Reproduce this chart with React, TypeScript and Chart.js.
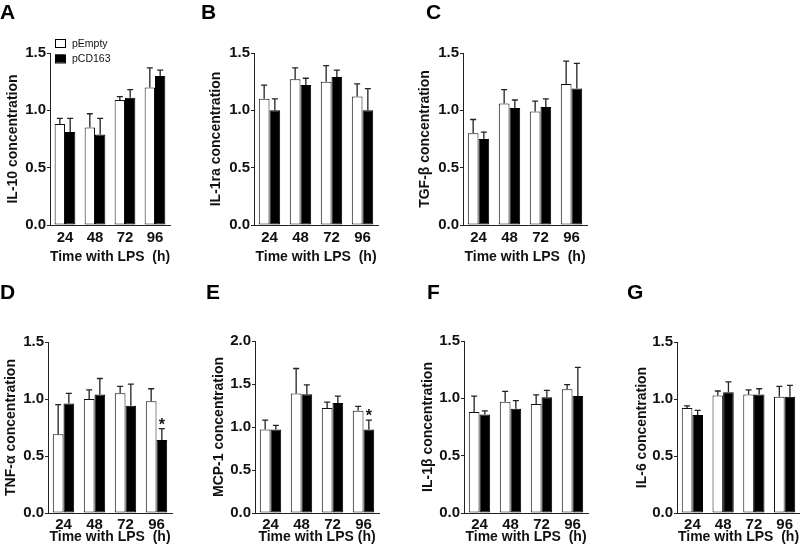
import React, { useEffect, useRef } from 'react';
import { Chart, registerables } from 'chart.js';

Chart.register(...registerables);

// ---------------- data ----------------
const hours = ['24', '48', '72', '96'];
const seriesNames = ['pEmpty', 'pCD163'];

const il10Empty = [0.88, 0.85, 1.09, 1.2];
const il10EmptyErr = [0.05, 0.12, 0.03, 0.17];
const il10CD163 = [0.81, 0.79, 1.11, 1.3];
const il10CD163Err = [0.12, 0.14, 0.07, 0.05];

const il1raEmpty = [1.1, 1.27, 1.25, 1.12];
const il1raEmptyErr = [0.12, 0.1, 0.14, 0.11];
const il1raCD163 = [1.0, 1.22, 1.29, 1.0];
const il1raCD163Err = [0.1, 0.06, 0.06, 0.19];

const tgfEmpty = [0.8, 1.06, 0.99, 1.23];
const tgfEmptyErr = [0.12, 0.12, 0.09, 0.2];
const tgfCD163 = [0.75, 1.02, 1.03, 1.19];
const tgfCD163Err = [0.06, 0.07, 0.07, 0.22];

const tnfEmpty = [0.69, 1.0, 1.05, 0.98];
const tnfEmptyErr = [0.26, 0.08, 0.06, 0.11];
const tnfCD163 = [0.96, 1.04, 0.94, 0.64];
const tnfCD163Err = [0.09, 0.14, 0.19, 0.1];
const tnfSig = ['', '', '', '*'];

const mcpEmpty = [0.97, 1.39, 1.22, 1.19];
const mcpEmptyErr = [0.11, 0.29, 0.07, 0.05];
const mcpCD163 = [0.97, 1.38, 1.28, 0.97];
const mcpCD163Err = [0.05, 0.11, 0.08, 0.11];
const mcpSig = ['', '', '', '*'];

const il1bEmpty = [0.88, 0.97, 0.95, 1.08];
const il1bEmptyErr = [0.14, 0.09, 0.08, 0.04];
const il1bCD163 = [0.86, 0.91, 1.01, 1.02];
const il1bCD163Err = [0.03, 0.07, 0.06, 0.25];

const il6Empty = [0.92, 1.03, 1.04, 1.02];
const il6EmptyErr = [0.02, 0.04, 0.04, 0.09];
const il6CD163 = [0.86, 1.06, 1.04, 1.02];
const il6CD163Err = [0.04, 0.09, 0.05, 0.1];

const noSig = ['', '', '', ''];
const ticks15 = [0, 0.5, 1.0, 1.5];
const ticks20 = [0, 0.5, 1.0, 1.5, 2.0];

// ---------------- layout / style ----------------
const FONT = '"Liberation Sans", Arial, Helvetica, sans-serif';
const INK = '#111';
const AXIS = '#222';

const panels = [
  { letter: 'A', lx: 0, ly: 1, yTitle: 'IL-10 concentration', xTitle: 'Time with LPS  (h)', empty: il10Empty, emptyErr: il10EmptyErr, cd: il10CD163, cdErr: il10CD163Err, sig: noSig, yTicks: ticks15, left: 5, top: 0, w: 169, h: 266, axisX: 50, chartTop: 53, chartBottom: 225, chartRight: 170, tickPad: 5, legend: true },
  { letter: 'B', lx: 201, ly: 1, yTitle: 'IL-1ra concentration', xTitle: 'Time with LPS  (h)', empty: il1raEmpty, emptyErr: il1raEmptyErr, cd: il1raCD163, cdErr: il1raCD163Err, sig: noSig, yTicks: ticks15, left: 208, top: 0, w: 174, h: 266, axisX: 254, chartTop: 53, chartBottom: 225, chartRight: 378, tickPad: 5, legend: false },
  { letter: 'C', lx: 426, ly: 1, yTitle: 'TGF-β concentration', xTitle: 'Time with LPS  (h)', empty: tgfEmpty, emptyErr: tgfEmptyErr, cd: tgfCD163, cdErr: tgfCD163Err, sig: noSig, yTicks: ticks15, left: 417, top: 0, w: 174, h: 266, axisX: 463, chartTop: 53, chartBottom: 225, chartRight: 587, tickPad: 5, legend: false },
  { letter: 'D', lx: 0, ly: 281, yTitle: 'TNF-α concentration', xTitle: 'Time with LPS  (h)', empty: tnfEmpty, emptyErr: tnfEmptyErr, cd: tnfCD163, cdErr: tnfCD163Err, sig: tnfSig, yTicks: ticks15, left: 3, top: 275, w: 173, h: 271, axisX: 48, chartTop: 342, chartBottom: 513, chartRight: 172, tickPad: 4, legend: false },
  { letter: 'E', lx: 206, ly: 281, yTitle: 'MCP-1 concentration', xTitle: 'Time with LPS (h)', empty: mcpEmpty, emptyErr: mcpEmptyErr, cd: mcpCD163, cdErr: mcpCD163Err, sig: mcpSig, yTicks: ticks20, left: 211, top: 275, w: 172, h: 271, axisX: 255, chartTop: 341, chartBottom: 513, chartRight: 379, tickPad: 4, legend: false },
  { letter: 'F', lx: 427, ly: 281, yTitle: 'IL-1β concentration', xTitle: 'Time with LPS  (h)', empty: il1bEmpty, emptyErr: il1bEmptyErr, cd: il1bCD163, cdErr: il1bCD163Err, sig: noSig, yTicks: ticks15, left: 420, top: 275, w: 172, h: 271, axisX: 464, chartTop: 341, chartBottom: 513, chartRight: 588, tickPad: 4, legend: false },
  { letter: 'G', lx: 627, ly: 281, yTitle: 'IL-6 concentration', xTitle: 'Time with LPS  (h)', empty: il6Empty, emptyErr: il6EmptyErr, cd: il6CD163, cdErr: il6CD163Err, sig: noSig, yTicks: ticks15, left: 634, top: 275, w: 170, h: 271, axisX: 677, chartTop: 342, chartBottom: 513, chartRight: 800, tickPad: 4, legend: false },
];

// ---------------- plugins ----------------
const errorBarPlugin = {
  id: 'errorBars',
  afterDatasetsDraw(chart: any) {
    const { ctx } = chart;
    const y = chart.scales.y;
    chart.data.datasets.forEach((ds: any, di: number) => {
      const meta = chart.getDatasetMeta(di);
      meta.data.forEach((bar: any, i: number) => {
        const v = ds.data[i];
        const e = ds.errors ? ds.errors[i] : 0;
        const x = bar.x;
        const top = y.getPixelForValue(v);
        const et = y.getPixelForValue(v + e);
        ctx.save();
        ctx.strokeStyle = AXIS;
        ctx.lineWidth = 1.3;
        ctx.beginPath();
        ctx.moveTo(x, top);
        ctx.lineTo(x, et);
        ctx.moveTo(x - 3, et);
        ctx.lineTo(x + 3, et);
        ctx.stroke();
        if (ds.sig && ds.sig[i]) {
          ctx.fillStyle = INK;
          ctx.font = `bold 16px ${FONT}`;
          ctx.textAlign = 'center';
          ctx.textBaseline = 'alphabetic';
          ctx.fillText(ds.sig[i], x, et + 1);
        }
        ctx.restore();
      });
    });
  },
};

const panelLegendPlugin = {
  id: 'panelLegend',
  afterDraw(chart: any, _args: any, opts: any) {
    if (!opts || !opts.show) return;
    const { ctx } = chart;
    ctx.save();
    chart.data.datasets.forEach((ds: any, i: number) => {
      const bx = opts.x;
      const by = opts.y + i * opts.rowGap;
      ctx.fillStyle = ds.backgroundColor;
      ctx.fillRect(bx, by, 10, 8);
      ctx.strokeStyle = '#000';
      ctx.lineWidth = 1;
      ctx.strokeRect(bx + 0.5, by + 0.5, 10, 8);
      ctx.fillStyle = INK;
      ctx.font = `10.5px ${FONT}`;
      ctx.textAlign = 'left';
      ctx.textBaseline = 'middle';
      ctx.fillText(ds.label, bx + 17, by + 5);
    });
    ctx.restore();
  },
};

function buildConfig(p: any) {
  const padRight = p.w - (p.chartRight - p.left);
  return {
    type: 'bar',
    data: {
      labels: hours,
      datasets: [
        { label: seriesNames[0], data: p.empty, errors: p.emptyErr, sig: null, backgroundColor: '#ffffff', borderColor: '#111', borderWidth: 1, borderSkipped: false },
        { label: seriesNames[1], data: p.cd, errors: p.cdErr, sig: p.sig, backgroundColor: '#000000', borderColor: '#000', borderWidth: 1, borderSkipped: false },
      ],
    },
    options: {
      animation: false,
      responsive: false,
      maintainAspectRatio: false,
      devicePixelRatio: 1,
      layout: { padding: { left: 0, top: p.chartTop - p.top, right: padRight, bottom: 0 } },
      datasets: { bar: { categoryPercentage: 0.69, barPercentage: 1 } },
      plugins: {
        legend: { display: false },
        tooltip: { enabled: false },
        title: { display: false },
        panelLegend: { show: p.legend, x: 55 - p.left, y: 39 - p.top, rowGap: 15.5 },
      },
      scales: {
        x: {
          type: 'category',
          offset: true,
          grid: { display: false, drawTicks: false },
          border: { display: true, color: AXIS, width: 1 },
          ticks: { color: INK, font: { family: FONT, size: 15, weight: 'bold' }, padding: p.tickPad - 1, maxRotation: 0, autoSkip: false },
          title: { display: true, text: p.xTitle, color: INK, font: { family: FONT, size: 14, weight: 'bold' }, padding: { top: 0, bottom: 0 } },
          afterFit: (s: any) => { s.height = p.top + p.h - p.chartBottom; },
        },
        y: {
          min: 0,
          max: p.yTicks[p.yTicks.length - 1],
          afterBuildTicks: (s: any) => { s.ticks = p.yTicks.map((v: number) => ({ value: v })); },
          ticks: { color: INK, font: { family: FONT, size: 15, weight: 'bold' }, padding: 1, callback: (v: any) => Number(v).toFixed(1) },
          grid: { drawOnChartArea: false, drawTicks: true, tickLength: 3, color: AXIS },
          border: { display: true, color: AXIS, width: 1 },
          title: { display: true, text: p.yTitle, color: INK, font: { family: FONT, size: 14, weight: 'bold' }, padding: { top: 0, bottom: 0 } },
          afterFit: (s: any) => { s.width = p.axisX - p.left; },
        },
      },
    },
    plugins: [errorBarPlugin, panelLegendPlugin],
  };
}

function Panel({ p }: { p: any }) {
  const ref = useRef<HTMLCanvasElement>(null);
  useEffect(() => {
    if (!ref.current) return;
    const chart = new Chart(ref.current, buildConfig(p) as any);
    return () => chart.destroy();
  }, [p]);
  return (
    <canvas
      ref={ref}
      width={p.w}
      height={p.h}
      style={{ position: 'absolute', left: p.left, top: p.top, width: p.w, height: p.h }}
    />
  );
}

export default function App() {
  return (
    <div style={{ position: 'absolute', left: 0, top: 0, width: 800, height: 553, overflow: 'hidden', background: '#fff' }}>
      {panels.map((p) => (
        <React.Fragment key={p.letter}>
          <Panel p={p} />
          <div
            style={{
              position: 'absolute', left: p.lx, top: p.ly, fontFamily: FONT, fontWeight: 'bold',
              fontSize: 21, lineHeight: '21px', color: '#000',
            }}
          >
            {p.letter}
          </div>
        </React.Fragment>
      ))}
    </div>
  );
}
